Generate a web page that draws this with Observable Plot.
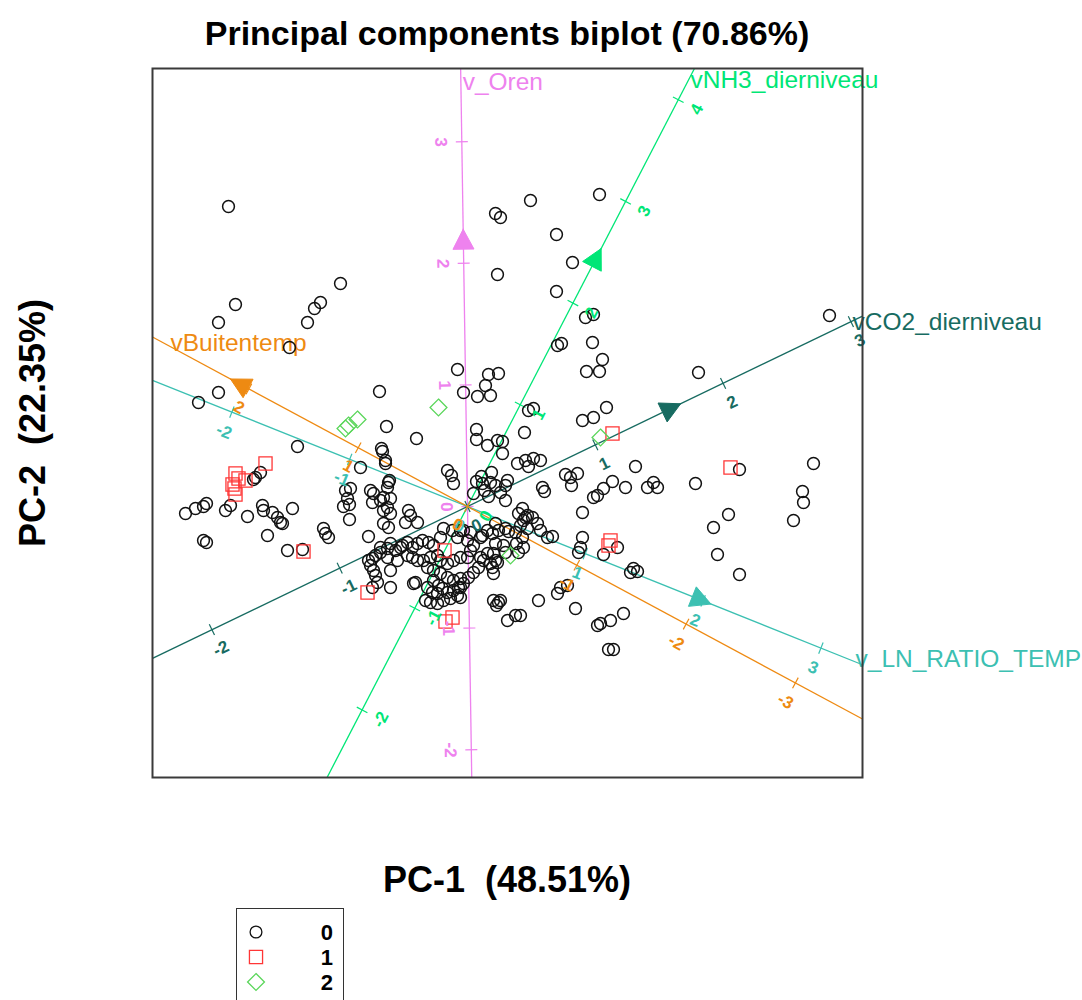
<!DOCTYPE html>
<html><head><meta charset="utf-8">
<script src="https://cdn.jsdelivr.net/npm/d3@7"></script>
<script src="https://cdn.jsdelivr.net/npm/@observablehq/plot@0.6"></script>
<style>
body{margin:0;background:#fff;font-family:"Liberation Sans",Arial,Helvetica,sans-serif;}
#wrap{position:relative;width:1082px;height:1000px;overflow:hidden;}
#chart svg{overflow:visible;display:block;}
#title{position:absolute;left:0;width:1014px;top:16px;text-align:center;font-weight:bold;font-size:34px;line-height:34px;white-space:pre;color:#000;}
#xlab{position:absolute;left:0;width:1014px;top:862px;text-align:center;font-weight:bold;font-size:36px;line-height:36px;white-space:pre;color:#000;}
#ylab{position:absolute;left:33px;top:423px;transform:translate(-50%,-50%) rotate(-90deg);font-weight:bold;font-size:36px;line-height:36px;white-space:pre;color:#000;}
#legend{position:absolute;left:236px;top:908px;width:106px;height:110px;border:1.6px solid #333;background:#fff;}
</style></head><body>
<div id="wrap">
  <div id="chart"></div>
  <div id="title">Principal components biplot (70.86%)</div>
  <div id="xlab">PC-1  (48.51%)</div>
  <div id="ylab">PC-2  (22.35%)</div>
  <div id="legend"></div>
</div>
<script>
// ---------- data ----------
const groupLabels = ["0", "1", "2"];
const groupColors = ["#111111", "#ff3636", "#5ad65a"];
const groupSymbols = ["circle", "square", "diamond2"];

// PC-1 / PC-2 scores, group 0
const scores0 = [
[-2.39,3.00],[0.28,2.93],[0.33,2.89],[0.30,2.32],[-1.27,2.23],[-2.32,2.02],[-1.47,2.04],[-1.53,1.98],[-2.49,1.84],[-1.60,1.84],
[-1.78,1.59],[-0.10,1.37],[0.21,1.32],[0.31,1.33],[0.18,1.21],[-0.04,1.14],[0.10,1.10],[0.23,1.11],[-2.49,1.14],[-2.69,1.04],
[-0.88,1.15],[0.63,3.06],[1.32,3.12],[0.89,2.72],[1.05,2.44],[0.89,2.15],[1.18,1.89],[1.26,1.92],[0.90,1.61],[0.94,1.63],
[1.25,1.64],[1.35,1.47],[1.19,1.35],[1.32,1.35],[2.31,1.34],[3.62,1.91],[0.61,0.96],[0.66,0.98],[1.15,0.86],[1.26,0.89],
[1.39,0.99],[-0.81,0.80],[-0.51,0.68],[0.09,0.77],[0.09,0.67],[0.20,0.61],[0.30,0.66],[0.35,0.65],[0.35,0.53],[0.57,0.74],
[-1.70,0.60],[-0.86,0.58],[-0.85,0.55],[-0.82,0.46],[-1.07,0.39],[-0.20,0.36],[-0.16,0.31],[-0.14,0.23],[0.24,0.34],[0.14,0.30],
[0.15,0.23],[0.23,0.24],[0.28,0.21],[0.38,0.21],[0.33,0.14],[0.38,0.06],[0.17,0.16],[0.21,0.10],[0.09,0.25],[0.06,0.13],
[0.40,0.26],[0.50,0.43],[0.58,0.46],[0.61,0.40],[0.73,0.46],[0.66,0.48],[0.98,0.32],[1.03,0.29],[1.10,0.33],[1.04,0.21],
[0.75,0.19],[0.77,0.15],[1.45,0.25],[1.36,0.18],[1.30,0.11],[1.26,0.09],[1.58,0.19],[1.68,0.40],[2.72,0.37],[3.46,0.43],
[1.80,0.19],[1.86,0.24],[1.90,0.19],[2.28,0.23],[3.35,0.15],[3.36,0.04],[3.26,-0.14],[2.61,-0.08],[2.46,-0.21],[1.15,-0.06],
[0.55,-0.02],[0.58,-0.11],[0.53,-0.19],[0.48,-0.26],[0.73,-0.24],[0.85,-0.30],[1.15,-0.31],[1.11,-0.46],[1.50,-0.41],[1.36,-0.48],
[1.63,-0.66],[1.66,-0.62],[1.70,-0.65],[2.50,-0.48],[2.72,-0.68],[0.93,-0.81],[1.00,-0.79],[0.90,-0.87],[0.71,-0.94],[1.08,-1.02],
[0.40,-1.14],[0.53,-1.09],[1.30,-1.19],[1.33,-1.17],[1.43,-1.14],[1.56,-1.07],[1.41,-1.43],[1.46,-1.43],[0.33,-0.94],[1.13,-0.41],
[0.51,-0.07],[0.56,-0.14],[0.60,-0.09],[0.65,-0.11],[0.60,-0.22],[0.70,-0.17],[0.80,-0.31],[0.28,-0.17],[0.20,-0.24],[0.25,-0.27],
[0.31,-0.24],[0.38,-0.22],[0.41,-0.25],[-0.24,-0.22],[-0.27,-0.31],[-0.15,-0.24],[-0.10,-0.31],[-0.04,-0.24],[0.13,-0.31],[0.06,-0.39],
[0.00,-0.34],[0.03,-0.44],[0.00,-0.51],[0.28,-0.37],[0.26,-0.47],[0.28,-0.54],[0.16,-0.54],[0.25,-0.61],[0.26,-0.67],[0.11,-0.61],
[0.06,-0.66],[0.01,-0.71],[-0.04,-0.77],[-0.07,-0.81],[0.36,-0.39],[0.38,-0.46],[0.13,-0.51],[0.20,-0.47],[0.23,-0.57],[0.30,-0.56],
[0.49,-0.37],[0.56,-0.41],[0.51,-0.46],[0.55,-0.31],[0.26,-0.94],[0.31,-0.96],[0.29,-0.99],[0.48,-1.09],
[-2.82,-0.07],[-2.72,-0.02],[-2.64,0.00],[-2.61,0.03],[-2.42,-0.04],[-2.37,0.01],[-2.20,-0.10],[-2.05,0.01],[-2.04,-0.04],[-1.95,-0.06],
[-1.90,-0.11],[-1.87,-0.16],[-1.85,-0.17],[-1.75,-0.02],[-2.64,-0.34],[-2.61,-0.36],[-2.00,-0.29],[-1.80,-0.44],[-1.65,-0.43],[-1.44,-0.22],
[-1.42,-0.27],[-1.39,-0.31],[-2.07,0.34],[-2.12,0.29],[-2.14,0.27],[-1.22,0.16],[-1.17,0.18],[-1.20,0.08],[-1.24,0.00],[-1.18,0.02],
[-1.18,-0.13],[-0.97,0.16],[-0.94,0.13],[-0.95,0.04],[-0.87,0.06],[-0.84,0.09],[-0.77,0.08],[-0.80,-0.01],[-0.84,-0.04],[-0.77,-0.07],
[-0.78,0.26],[-0.79,0.24],[-0.84,-0.17],[-0.79,-0.21],[-0.99,-0.30],[-0.59,-0.04],[-0.57,-0.09],[-0.50,-0.16],[-0.62,-0.16],[-0.80,0.19],
[-0.95,-0.52],[-0.92,-0.49],[-0.87,-0.46],[-0.80,-0.42],[-0.72,-0.44],[-0.65,-0.39],[-0.60,-0.36],[-0.55,-0.41],[-0.50,-0.37],[-0.45,-0.34],
[-0.39,-0.36],[-0.34,-0.39],[-0.60,-0.49],[-0.55,-0.51],[-0.50,-0.54],[-0.44,-0.54],[-0.37,-0.51],[-0.30,-0.49],[-0.27,-0.54],[-0.20,-0.57],
[-0.14,-0.54],[-0.07,-0.51],[-0.94,-0.64],[-0.92,-0.69],[-0.77,-0.64],[-0.77,-0.81],[-0.54,-0.77],[-0.40,-0.61],[-0.34,-0.64],[-0.27,-0.67],
[-0.20,-0.71],[-0.14,-0.74],[-0.07,-0.72],[-0.40,-0.81],[-0.35,-0.86],[-0.30,-0.87],[-0.25,-0.82],[-0.20,-0.86],[-0.14,-0.84],[-0.09,-0.81],
[-0.10,-0.89],[-0.17,-0.92],[-0.24,-0.94],[-0.30,-0.97],[-0.37,-0.96],[-0.42,-0.94],[-0.52,-0.76],[-0.90,-0.76],[-0.95,-0.81],[-0.99,-0.54],
[-0.97,-0.59],[-0.87,-0.41],[-0.77,-0.37],[-0.67,-0.41],[-0.80,-0.51],[-0.70,-0.54],[-0.07,-0.24],[0.03,-0.26],[0.15,-0.29],[-0.82,0.43],
[-0.34,-0.74],[-0.29,-0.79],[-0.07,-0.91]
];
// group 1
const scores1 = [
[-2.02,0.43],[-2.32,0.33],[-2.29,0.28],[-2.22,0.26],[-2.35,0.22],[-2.33,0.18],[-2.32,0.12],[-1.64,-0.45],
[-0.23,-0.44],[-1.00,-0.86],[-0.15,-1.11],[-0.22,-1.15],[1.45,0.73],[2.63,0.39],[1.43,-0.34],[1.41,-0.39]
];
// group 2
const scores2 = [
[-0.29,0.99],[-1.22,0.78],[-1.19,0.81],[-1.10,0.87],[1.33,0.69],[0.43,-0.49]
];

// biplot axes: direction of one calibration unit in PC space
const axisNames  = ["v_Oren", "vNH3_dierniveau", "vCO2_dierniveau", "v_LN_RATIO_TEMP", "vBuitentemp"];
const axisDirX   = [-0.019, 0.527, 1.278, 1.178, -1.093];
const axisDirY   = [1.216, 1.017, 0.616, -0.472, 0.588];
const axisTicks  = [[-2,-1,0,1,2,3], [-2,-1,0,1,2,3,4], [-2,-1,0,1,2,3], [-2,-1,0,1,2,3], [-3,-2,-1,0,1,2]];
const axisArrow  = [2.19, 2.44, 1.59, 1.98, 2.08];
const axisColors = ["#ee82ee", "#00e676", "#176b61", "#3cc0b2", "#ee8a12"];

// ---------- style ----------
const xDomain = [-3.15, 3.95], yDomain = [-2.71, 4.38];
const nameStyle = {
  "v_Oren": {dx: 2, dy: 14},
  "vNH3_dierniveau": {dx: -4, dy: 12},
  "vCO2_dierniveau": {dx: -10, dy: 6},
  "v_LN_RATIO_TEMP": {dx: -7, dy: -6},
  "vBuitentemp": {dx: 18, dy: 6}
};
const TICK_HALF = 0.06, LABEL_OFF = 0.21;

function tRange(dx, dy) {
  let lo = -Infinity, hi = Infinity;
  [[dx, xDomain], [dy, yDomain]].forEach(([d, dom]) => {
    if (d > 0) { lo = Math.max(lo, dom[0] / d); hi = Math.min(hi, dom[1] / d); }
    else if (d < 0) { lo = Math.max(lo, dom[1] / d); hi = Math.min(hi, dom[0] / d); }
  });
  return [lo, hi];
}

const axes = axisNames.map((name, i) => {
  const dx = axisDirX[i], dy = axisDirY[i];
  const len = Math.hypot(dx, dy), ux = dx / len, uy = dy / len;
  let px = uy, py = -ux;
  if (Math.abs(py) < 0.2) { if (px > 0) { px = -px; py = -py; } }
  else if (py > 0) { px = -px; py = -py; }
  let ang = Math.atan2(-uy, ux) * 180 / Math.PI;
  if (ang > 90) ang -= 180;
  if (ang <= -90) ang += 180;
  const [t0, t1] = tRange(dx, dy);
  const ticks = axisTicks[i].map(v => ({v, x: v * dx, y: v * dy}));
  const a = axisArrow[i], cx = a * dx, cy = a * dy;
  const qx = uy, qy = -ux;
  const tri = [
    {x: cx + ux * 0.11, y: cy + uy * 0.11},
    {x: cx - ux * 0.09 + qx * 0.105, y: cy - uy * 0.09 + qy * 0.105},
    {x: cx - ux * 0.09 - qx * 0.105, y: cy - uy * 0.09 - qy * 0.105},
    {x: cx + ux * 0.11, y: cy + uy * 0.11}
  ];
  return {name, color: axisColors[i], ux, uy, px, py, ang, ticks, tri,
          x1: t0 * dx, y1: t0 * dy, x2: t1 * dx, y2: t1 * dy};
});

const marks = [];
axes.forEach(a => {
  marks.push(Plot.link([a], {x1: "x1", y1: "y1", x2: "x2", y2: "y2", stroke: a.color, strokeWidth: 1.3}));
  marks.push(Plot.link(a.ticks, {
    x1: d => d.x - a.px * TICK_HALF, y1: d => d.y - a.py * TICK_HALF,
    x2: d => d.x + a.px * TICK_HALF, y2: d => d.y + a.py * TICK_HALF,
    stroke: a.color, strokeWidth: 1.2}));
  const st = nameStyle[a.name];
  marks.push(Plot.text([a], {x: "x2", y: "y2", text: d => d.name, fill: a.color,
    textAnchor: "start", lineAnchor: "middle", fontSize: 24.5, dx: st.dx, dy: st.dy}));
});
[scores0, scores1, scores2].forEach((s, g) => {
  marks.push(Plot.dot(s, {x: d => d[0], y: d => d[1], symbol: groupSymbols[g],
    r: g === 0 ? 5.9 : g === 1 ? 7.4 : 7.6, stroke: groupColors[g], strokeWidth: g === 0 ? 1.5 : 1.3, fill: "none"}));
});
axes.forEach(a => {
  marks.push(Plot.line(a.tri, {x: "x", y: "y", fill: a.color, stroke: a.color, strokeWidth: 1}));
  marks.push(Plot.text(a.ticks, {
    x: d => d.x + a.px * LABEL_OFF, y: d => d.y + a.py * LABEL_OFF,
    text: d => String(d.v), rotate: a.ang, fill: a.color,
    fontSize: 17, fontWeight: "bold", textAnchor: "middle", lineAnchor: "middle"}));
});
marks.push(Plot.frame({stroke: "#3a3a3a", strokeWidth: 2}));

const chart = Plot.plot({
  width: 1082, height: 800,
  marginLeft: 152, marginRight: 220, marginTop: 68, marginBottom: 23,
  x: {domain: xDomain, axis: null},
  y: {domain: yDomain, axis: null},
  style: {fontFamily: "'Liberation Sans', Arial, sans-serif", background: "transparent"},
  marks
});
document.getElementById("chart").appendChild(chart);

// ---------- legend ----------
const lg = d3.select("#legend").append("svg").attr("width", 106).attr("height", 110);
const rows = lg.selectAll("g").data(groupLabels).join("g")
  .attr("transform", (d, i) => `translate(0,${23 + i * 25})`);
rows.append("path")
  .attr("transform", "translate(19,0)")
  .attr("d", (d, i) => {
    const sym = [d3.symbolCircle, d3.symbolSquare, d3.symbolDiamond2][i];
    const r = [5.9, 7.4, 7.6][i];
    return d3.symbol(sym, Math.PI * r * r)();
  })
  .attr("fill", "none").attr("stroke", (d, i) => groupColors[i]).attr("stroke-width", 1.3);
rows.append("text").attr("x", 96).attr("y", 8).attr("text-anchor", "end")
  .attr("font-size", 22).attr("font-weight", "bold")
  .attr("font-family", "'Liberation Sans', Arial, sans-serif").text(d => d);
</script>
</body></html>
